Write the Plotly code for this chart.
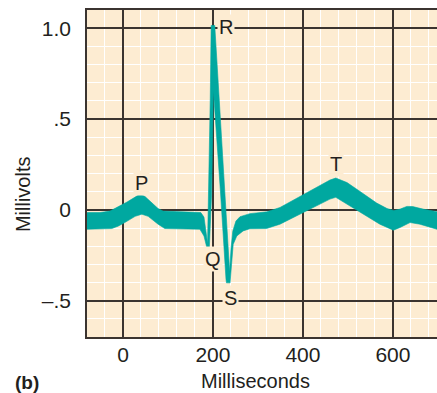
import plotly.graph_objects as go

# ECG tracing drawn as a ribbon: upper and lower edges of the ink band (time in ms, potential in mV)
upper_ms = [-80, -51, -29, -11, 9, 27, 38, 49, 64, 78, 89, 116, 160, 173, 180, 184, 188,
            194, 196, 204, 226, 234, 237, 240, 244, 251, 260, 282, 320, 349, 393, 430,
            460, 473, 498, 527, 564, 587, 602, 616, 631, 644, 667, 698]
upper_mv = [-0.015, -0.015, -0.007, 0.015, 0.043, 0.070, 0.087, 0.073, 0.037, 0.007, -0.007,
            -0.009, -0.010, -0.015, -0.040, -0.107, -0.184,
            0.612, 1.015, 1.015, 0.087, -0.272, -0.339, -0.217, -0.118, -0.062, -0.038,
            -0.021, -0.011, 0.013, 0.073, 0.120, 0.164, 0.175, 0.150, 0.101, 0.037, 0.007,
            -0.004, 0.004, 0.019, 0.018, 0.004, -0.010]

lower_ms = [-80, -25, -11, 4, 27, 42, 56, 78, 93, 127, 160, 171, 180, 186, 192,
            197, 201, 217, 229, 230, 238, 242, 245, 253, 267, 282, 319, 349, 393, 430,
            460, 473, 504, 534, 571, 601, 616, 638, 660, 698]
lower_mv = [-0.107, -0.103, -0.090, -0.070, -0.036, -0.024, -0.036, -0.079, -0.103, -0.107,
            -0.107, -0.107, -0.144, -0.204, -0.206,
            0.087, 0.656, 0.087, -0.383, -0.402, -0.402, -0.283, -0.190, -0.144, -0.116,
            -0.104, -0.103, -0.079, -0.024, 0.022, 0.059, 0.069, 0.022, -0.024, -0.079,
            -0.112, -0.097, -0.070, -0.079, -0.107]

# wave labels
wave_names = ["P", "Q", "R", "S", "T"]
wave_ms = [42, 199, 230, 240, 473]
wave_mv = [0.148, -0.272, 1.006, -0.488, 0.250]

x_ticks = [0, 200, 400, 600]
x_ticktext = ["0", "200", "400", "600"]
y_ticks = [-0.5, 0, 0.5, 1.0]
y_ticktext = ["\u2013.5", "0", ".5", "1.0"]

PAPER = "#FDECD2"
TEAL = "#00A8A0"
GRID = "#3B3430"
TEXT = "#231F20"
FONT = "Liberation Sans, Arial, Helvetica, sans-serif"

fig = go.Figure()

fig.add_trace(go.Scatter(
    x=upper_ms + lower_ms[::-1],
    y=upper_mv + lower_mv[::-1],
    mode="lines",
    fill="toself",
    fillcolor=TEAL,
    line=dict(color=TEAL, width=0.6),
    hoverinfo="skip",
    showlegend=False,
))

for name, xm, ym in zip(wave_names, wave_ms, wave_mv):
    fig.add_annotation(
        x=xm, y=ym, text=name, showarrow=False,
        font=dict(family=FONT, size=20, color=TEXT),
        bgcolor=PAPER, borderpad=1,
    )

# axis titles and panel tag
fig.add_annotation(
    xref="paper", yref="paper", x=0, y=0.437, xshift=-64,
    xanchor="center", yanchor="middle",
    text="Millivolts", textangle=-90, showarrow=False,
    font=dict(family=FONT, size=20, color=TEXT),
)
fig.add_annotation(
    xref="paper", yref="paper", x=0.48, y=0, yshift=-44,
    xanchor="center", yanchor="middle",
    text="Milliseconds", showarrow=False,
    font=dict(family=FONT, size=20, color=TEXT),
)
fig.add_annotation(
    xref="paper", yref="paper", x=0, y=0, xshift=-60, yshift=-45,
    xanchor="center", yanchor="middle",
    text="<b>(b)</b>", showarrow=False,
    font=dict(family=FONT, size=19, color=TEXT),
)

fig.update_xaxes(
    range=[-80, 698],
    tickvals=x_ticks, ticktext=x_ticktext,
    showgrid=True, gridcolor=GRID, gridwidth=1.6,
    minor=dict(dtick=40, tick0=0, showgrid=True, gridcolor="white", gridwidth=1.4),
    zeroline=False,
    showline=True, mirror=True, linecolor=GRID, linewidth=1.6,
    ticks="", ticklabelstandoff=-2,
    tickfont=dict(family=FONT, size=21, color=TEXT),
    fixedrange=True,
)
fig.update_yaxes(
    range=[-0.70, 1.10],
    tickvals=y_ticks, ticktext=y_ticktext,
    showgrid=True, gridcolor=GRID, gridwidth=1.6,
    minor=dict(dtick=0.1, tick0=0, showgrid=True, gridcolor="white", gridwidth=1.4),
    zeroline=False,
    showline=True, linecolor=GRID, linewidth=1.6,
    ticks="", ticklabelstandoff=10,
    tickfont=dict(family=FONT, size=21, color=TEXT),
    fixedrange=True,
)

fig.update_layout(
    width=437, height=393,
    margin=dict(l=87, r=0, t=10, b=56),
    paper_bgcolor="white",
    plot_bgcolor=PAPER,
    showlegend=False,
)

fig.write_html("out.html", config={"displayModeBar": False})
